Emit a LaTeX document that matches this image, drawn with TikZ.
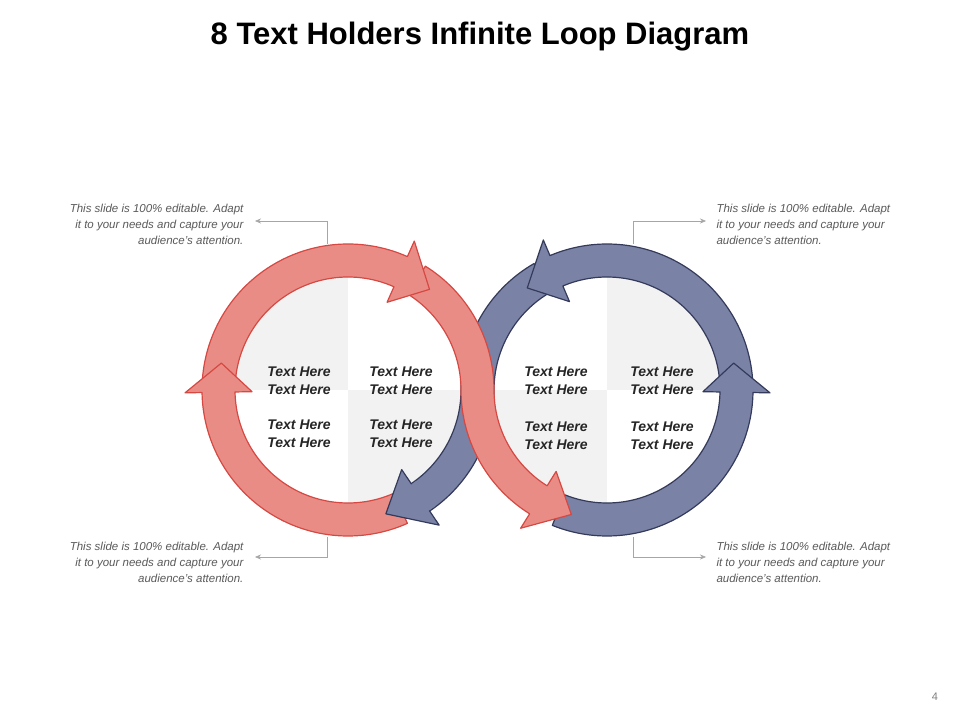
\documentclass[tikz,border=0pt]{standalone}
\usepackage{fontspec}
\setmainfont{Liberation Sans}
\usetikzlibrary{arrows.meta}
\definecolor{rfill}{RGB}{234,140,134}
\definecolor{rline}{RGB}{214,72,66}
\definecolor{bfill}{RGB}{122,130,166}
\definecolor{bline}{RGB}{52,58,90}
\definecolor{qgrey}{RGB}{242,242,242}
\definecolor{tgrey}{RGB}{90,90,90}
\begin{document}
\begin{tikzpicture}[x=1pt,y=1pt,
  redseg/.style={fill=rfill,draw=rline,line width=1.2pt,line join=round},
  blueseg/.style={fill=bfill,draw=bline,line width=1.2pt,line join=round},
  lbl/.style={font=\bfseries\itshape\fontsize{14}{18}\selectfont,text=black!85,align=center},
  note/.style={font=\itshape\fontsize{11.5}{16}\selectfont,text=tgrey},
  conn/.style={draw=gray!70,line width=0.6pt,-{Stealth[length=6pt,width=5pt]}}]
\useasboundingbox (0,0) rectangle (960,720);
\fill[white] (0,0) rectangle (960,720);
\def\Ro{146}\def\ri{113}\def\rm{129.5}\def\ho{163}\def\hi{96}
\coordinate (L) at (348,330);
\coordinate (R) at (607,330);
\node[font=\bfseries\fontsize{31}{36}\selectfont] (title) at (480,683) {8 Text Holders Infinite Loop Diagram};
\node[font=\fontsize{11}{13}\selectfont,text=gray] (pg) at (935,23) {4};
% quadrants
\begin{scope}
\clip (L) circle (\ri);
\fill[qgrey] (348,330) rectangle (230,450);
\fill[qgrey] (348,330) rectangle (470,210);
\end{scope}
\begin{scope}
\clip (R) circle (\ri);
\fill[qgrey] (607,330) rectangle (730,450);
\fill[qgrey] (607,330) rectangle (490,210);
\end{scope}
% blue seg3 body
\path[blueseg] ([shift={(R)}]120:\Ro) arc[start angle=120,end angle=180,radius=\Ro]
  arc[start angle=0,end angle=-56,radius=\ri]
  -- ([shift={(L)}]-56:\Ro) arc[start angle=-56,end angle=0,radius=\Ro]
  arc[start angle=180,end angle=120,radius=\ri] -- cycle;
% blue seg2
\path[blueseg] ([shift={(R)}]4:\Ro) arc[start angle=4,end angle=113,radius=\Ro]
  -- ([shift={(R)}]113:\ho) -- ([shift={(R)}]128:\rm) -- ([shift={(R)}]113:\hi)
  -- ([shift={(R)}]113:\ri) arc[start angle=113,end angle=4,radius=\ri] -- cycle;
% blue seg1
\path[blueseg] ([shift={(R)}]-112:\Ro) arc[start angle=-112,end angle=-1,radius=\Ro]
  -- ([shift={(R)}]-1:\ho) -- ([shift={(R)}]12:\rm) -- ([shift={(R)}]-1:\hi)
  -- ([shift={(R)}]-1:\ri) arc[start angle=-1,end angle=-112,radius=\ri] -- cycle;
% red seg3
\path[redseg] ([shift={(L)}]58:\Ro) arc[start angle=58,end angle=0,radius=\Ro]
  arc[start angle=180,end angle=238,radius=\ri]
  -- ([shift={(R)}]238:\hi) -- ([shift={(R)}]254:\rm) -- ([shift={(R)}]238:\ho)
  -- ([shift={(R)}]238:\Ro) arc[start angle=238,end angle=180,radius=\Ro]
  arc[start angle=0,end angle=58,radius=\ri] -- cycle;
% red seg2
\path[redseg] ([shift={(L)}]176:\Ro) arc[start angle=176,end angle=66,radius=\Ro]
  -- ([shift={(L)}]66:\ho) -- ([shift={(L)}]51:\rm) -- ([shift={(L)}]66:\hi)
  -- ([shift={(L)}]66:\ri) arc[start angle=66,end angle=176,radius=\ri] -- cycle;
% red seg1
\path[redseg] ([shift={(L)}]-66:\Ro) arc[start angle=-66,end angle=-179,radius=\Ro]
  -- ([shift={(L)}]-179:\ho) -- ([shift={(L)}]-192:\rm) -- ([shift={(L)}]-179:\hi)
  -- ([shift={(L)}]-179:\ri) arc[start angle=-179,end angle=-66,radius=\ri] -- cycle;
% blue head3
\path[blueseg] ([shift={(L)}]-56:\hi) -- ([shift={(L)}]-56:\ho) -- ([shift={(L)}]-73:\rm) -- cycle;
\fill[bfill] ([shift={(L)}]-53:\ri+0.8) -- ([shift={(L)}]-57:\ri+0.8) -- ([shift={(L)}]-57:\Ro-0.8) -- ([shift={(L)}]-53:\Ro-0.8) -- cycle;
% labels
\node[lbl] (t1) at (299,339) {Text Here\\Text Here};
\node[lbl] (t2) at (401,339) {Text Here\\Text Here};
\node[lbl] (t3) at (299,286) {Text Here\\Text Here};
\node[lbl] (t4) at (401,286) {Text Here\\Text Here};
\node[lbl] (t5) at (556,339) {Text Here\\Text Here};
\node[lbl] (t6) at (662,339) {Text Here\\Text Here};
\node[lbl] (t7) at (556,284) {Text Here\\Text Here};
\node[lbl] (t8) at (662,284) {Text Here\\Text Here};
% notes
\node[note,align=right,anchor=east] (n1) at (247,496) {This slide is 100\% editable. Adapt\\it to your needs and capture your\\audience's attention.};
\node[note,align=right,anchor=east] (n2) at (247,158) {This slide is 100\% editable. Adapt\\it to your needs and capture your\\audience's attention.};
\node[note,align=left,anchor=west] (n3) at (713,496) {This slide is 100\% editable. Adapt\\it to your needs and capture your\\audience's attention.};
\node[note,align=left,anchor=west] (n4) at (713,158) {This slide is 100\% editable. Adapt\\it to your needs and capture your\\audience's attention.};
\coordinate (c1) at (327,476);
\coordinate (c2) at (327,183);
\coordinate (c3) at (633,476);
\coordinate (c4) at (633,183);
\draw[conn] (c1) |- (255,499);
\draw[conn] (c2) |- (255,163);
\draw[conn] (c3) |- (706,499);
\draw[conn] (c4) |- (706,163);
\end{tikzpicture}
\end{document}
